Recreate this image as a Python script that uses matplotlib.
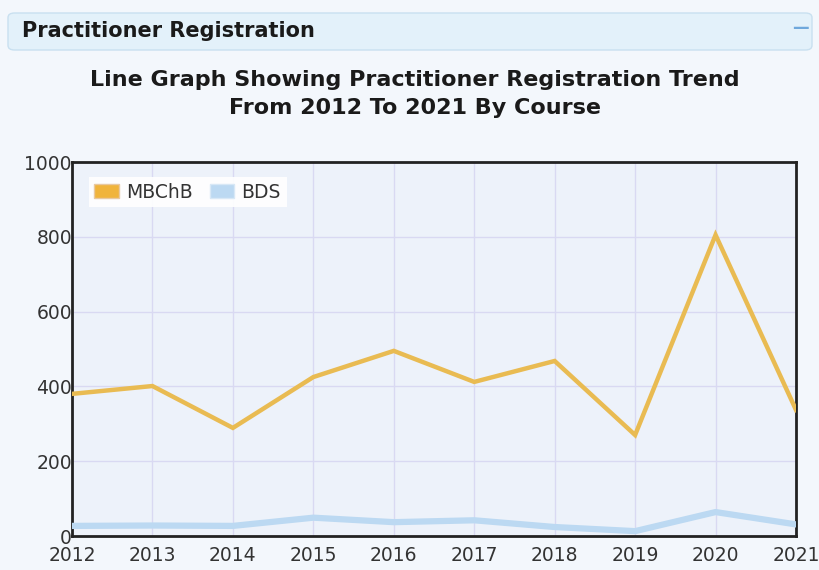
import matplotlib
matplotlib.use("Agg")
import matplotlib.pyplot as plt
from matplotlib.patches import FancyBboxPatch, Patch

years = [2012, 2013, 2014, 2015, 2016, 2017, 2018, 2019, 2020, 2021]
mbchb = [380, 401, 289, 425, 495, 412, 468, 270, 805, 337]
bds = [27, 28, 27, 49, 37, 42, 24, 13, 64, 31]
y_ticks = [0, 200, 400, 600, 800, 1000]

header = "Practitioner Registration"
title = "Line Graph Showing Practitioner Registration Trend\nFrom 2012 To 2021 By Course"

plt.rcParams['font.family'] = ['DejaVu Sans']

fig = plt.figure(figsize=(8.19, 5.70), dpi=100)
fig.patch.set_facecolor('#f3f7fc')

# header bar
box = FancyBboxPatch((8 / 819, 1 - 50 / 570), 804 / 819, 37 / 570,
                     boxstyle="round,pad=0,rounding_size=0.008",
                     transform=fig.transFigure, facecolor='#e3f1fa',
                     edgecolor='#c9e0f0', linewidth=1.0)
fig.patches.append(box)
fig.text(22 / 819, 1 - 31 / 570, header, fontsize=15, fontweight='bold',
         color='#1a1a1a', va='center', ha='left')
fig.text(800 / 819, 1 - 28 / 570, "\u2014", fontsize=12, fontweight='bold',
         color='#6fa8dc', va='center', ha='center')

fig.text(415 / 819, 1 - 94 / 570, title, fontsize=16, fontweight='bold',
         color='#1a1a1a', va='center', ha='center', linespacing=1.45)

ax = fig.add_axes([72 / 819, 1 - 536 / 570, 724 / 819, 374 / 570])
ax.set_facecolor('#edf2fa')
ax.plot(years, bds, color='#bcd9f2', linewidth=4.5, solid_joinstyle='round', zorder=3)
ax.plot(years, mbchb, color='#e9bb52', linewidth=3.2, solid_joinstyle='miter', zorder=4)

ax.set_xlim(2012, 2021)
ax.set_ylim(0, 1000)
ax.set_xticks(years)
ax.set_yticks(y_ticks)
ax.set_xticklabels([str(y) for y in years])
ax.set_yticklabels([str(v) for v in y_ticks])
ax.grid(True, color='#d9d9f2', linewidth=1.0, zorder=0)
ax.set_axisbelow(True)
ax.tick_params(axis='both', length=0, labelsize=13.5, colors='#333333')
ax.tick_params(axis='y', pad=0)
ax.tick_params(axis='x', pad=7)
for s in ax.spines.values():
    s.set_color('#222222')
    s.set_linewidth(2)

handles = [Patch(facecolor='#f0b43c', edgecolor='#e8c8a0', label='MBChB'),
           Patch(facecolor='#bcd9f2', edgecolor='#d8e8f6', label='BDS')]
leg = ax.legend(handles=handles, loc='upper left', ncol=2, fontsize=13.5,
                frameon=True, fancybox=False, handlelength=1.3, handleheight=0.75,
                columnspacing=0.9, handletextpad=0.4, borderpad=0.3,
                bbox_to_anchor=(0.01, 0.985))
leg.get_frame().set_facecolor('white')
leg.get_frame().set_edgecolor('none')
leg.get_frame().set_alpha(0.9)
for t in leg.get_texts():
    t.set_color('#333333')

fig.savefig('out.png', dpi=100, facecolor=fig.get_facecolor())
